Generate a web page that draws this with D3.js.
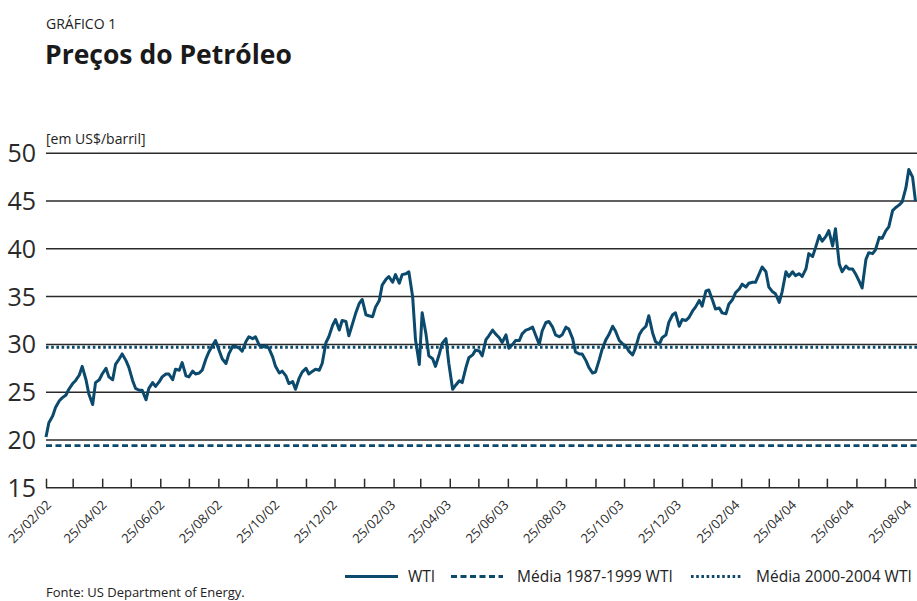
<!DOCTYPE html>
<html>
<head>
<meta charset="utf-8">
<script src="https://cdn.jsdelivr.net/npm/d3@7"></script>
<style>
  body { margin: 0; background: #fff; }
  svg { display: block; font-family: "Open Sans", sans-serif; }
</style>
</head>
<body>
<div id="chart"></div>
<script>
// first observation, then Monday / Thursday of every week
const startDate = "2002-02-25";
const wti = [
  20.3, 21.8, 22.5, 23.4, 24.1, 24.4, 24.7, 25.3, 25.9, 26.2,
  26.8, 27.7, 26.3, 24.8, 23.7, 26.0, 26.3, 26.9, 27.5, 26.6,
  26.3, 27.9, 28.5, 29.0, 28.3, 27.6, 26.2, 25.4, 25.2, 25.2,
  24.2, 25.4, 26.0, 25.6, 26.1, 26.6, 26.9, 26.9, 26.3, 27.4,
  27.3, 28.1, 26.7, 26.6, 27.2, 26.9, 27.0, 27.3, 28.5, 29.2,
  29.9, 30.4, 29.3, 28.5, 28.0, 29.0, 29.8, 29.8, 29.6, 29.3,
  30.3, 30.8, 30.6, 30.8, 29.9, 29.7, 29.9, 29.6, 28.7, 27.7,
  27.0, 27.2, 26.7, 25.9, 26.1, 25.3, 26.5, 27.1, 27.5, 26.9,
  27.2, 27.4, 27.3, 28.0, 30.2, 30.8, 32.0, 32.6, 31.5, 32.5,
  32.4, 30.9, 32.2, 33.2, 34.3, 34.7, 33.1, 33.0, 32.9, 33.9,
  34.6, 36.2, 36.8, 37.1, 36.5, 37.3, 36.4, 37.3, 37.4, 37.6,
  35.0, 30.5, 27.9, 33.3, 31.1, 28.8, 28.5, 27.7, 29.0, 30.1,
  30.6, 28.0, 25.3, 25.7, 26.2, 26.0, 27.6, 28.6, 28.9, 29.4,
  29.3, 28.8, 30.5, 30.9, 31.5, 31.1, 30.7, 30.2, 31.0, 29.6,
  30.0, 30.4, 30.4, 31.1, 31.5, 31.6, 31.8, 31.0, 30.0, 31.4,
  32.3, 32.4, 31.8, 31.0, 30.8, 31.0, 31.8, 31.6, 30.6, 29.2,
  29.0, 29.0, 28.3, 27.6, 27.0, 27.1, 28.4, 29.5, 30.5, 31.0,
  31.9, 31.4, 30.4, 30.1, 29.8, 29.3, 28.9, 29.6, 31.0, 31.5,
  31.9, 33.0, 31.2, 30.3, 30.0, 30.7, 31.0, 32.3, 33.1, 33.3,
  31.9, 32.6, 32.5, 32.8, 33.5, 33.9, 34.6, 34.0, 35.6, 35.7,
  34.6, 33.7, 33.8, 33.3, 33.2, 34.2, 34.7, 35.4, 35.8, 36.3,
  36.0, 36.4, 36.5, 36.5, 37.4, 38.1, 37.6, 36.0, 35.5, 35.3,
  34.4, 35.5, 37.6, 37.1, 37.6, 37.2, 37.4, 37.1, 37.9, 39.5,
  39.2, 40.1, 41.4, 40.8, 41.3, 41.9, 40.3, 42.1, 38.4, 37.6,
  38.2, 37.9, 37.9, 37.4, 36.6, 35.9, 38.9, 39.6, 39.5, 39.9,
  41.2, 41.1, 41.9, 42.3, 44.0, 44.3, 44.6, 44.9, 46.4, 48.3,
  47.5, 45.0
];
const avg8799 = 19.4;
const avg0004 = 29.7;
const yTicks = [15, 20, 25, 30, 35, 40, 45, 50];
const legendLabels = ["WTI", "Média 1987-1999 WTI", "Média 2000-2004 WTI"];

const width = 917, height = 601;
const margin = {top: 153.3, right: 0, bottom: 113.3, left: 46};
const blue = "#0b4a6c";

const parse = d3.timeParse("%Y-%m-%d");
const start = parse(startDate);
const data = wti.map(function (v, i) {
  const w = Math.floor(i / 2);
  return {date: d3.timeDay.offset(start, w * 7 + (i % 2) * 3), value: v};
});

const svg = d3.select("#chart").append("svg")
  .attr("width", width)
  .attr("height", height);

const x = d3.scaleTime()
  .domain([start, parse("2004-08-25")])
  .range([margin.left, 914.5]);
const y = d3.scaleLinear()
  .domain([15, 50])
  .range([height - margin.bottom, margin.top]);

// titles
svg.append("text").attr("x", 46).attr("y", 29)
  .style("font-size", "14px").style("fill", "#222")
  .text("GRÁFICO 1");
svg.append("text").attr("x", 45).attr("y", 64)
  .style("font-size", "26.5px").style("font-weight", "bold").style("fill", "#1a1a1a")
  .text("Preços do Petróleo");
svg.append("text").attr("x", 46).attr("y", 144)
  .style("font-size", "14px").style("fill", "#222")
  .text("[em US$/barril]");

// gridlines
svg.append("g").selectAll("line")
  .data(yTicks.filter(d => d > 15))
  .join("line")
  .attr("x1", margin.left).attr("x2", width)
  .attr("y1", d => y(d)).attr("y2", d => y(d))
  .attr("stroke", "#2a2a2a").attr("stroke-width", 1.5);

// y labels
svg.append("g").selectAll("text")
  .data(yTicks)
  .join("text")
  .attr("x", 36).attr("y", d => y(d) + 9)
  .attr("text-anchor", "end")
  .style("font-size", "25px").style("fill", "#2a2a2a")
  .text(d => d);

// x axis
const months = d3.timeMonth.range(parse("2002-02-01"), parse("2004-09-01"))
  .map(d => new Date(d.getFullYear(), d.getMonth(), 25));
const fmt = d3.timeFormat("%d/%m/%y");
const xAxis = d3.axisTop(x)
  .tickValues(months)
  .tickSize(9)
  .tickFormat("");
const gx = svg.append("g")
  .attr("transform", "translate(0," + y(15) + ")")
  .call(xAxis);
gx.select(".domain").remove();
gx.selectAll(".tick line").attr("stroke", "#2a2a2a").attr("stroke-width", 1.5);
gx.append("line")
  .attr("x1", margin.left).attr("x2", width)
  .attr("stroke", "#2a2a2a").attr("stroke-width", 1.5);

svg.append("g").selectAll("text")
  .data(months.filter((d, i) => i % 2 === 0))
  .join("text")
  .attr("text-anchor", "end")
  .attr("transform", (d, i) => "translate(" + (x(d) + 6 - i * 0.55) + "," + (y(15) + 18) + ") rotate(-45)")
  .style("font-size", "13px").style("fill", "#2a2a2a")
  .text(d => fmt(d));

// average lines
svg.append("line")
  .attr("x1", margin.left).attr("x2", width)
  .attr("y1", y(avg8799)).attr("y2", y(avg8799))
  .attr("stroke", blue).attr("stroke-width", 2.8)
  .attr("stroke-dasharray", "6,3.5");
svg.append("line")
  .attr("x1", margin.left).attr("x2", width)
  .attr("y1", y(avg0004)).attr("y2", y(avg0004))
  .attr("stroke", blue).attr("stroke-width", 2.8)
  .attr("stroke-dasharray", "2.6,2.6");

// WTI line
const line = d3.line()
  .x(d => x(d.date))
  .y(d => y(d.value));
svg.append("path")
  .datum(data)
  .attr("fill", "none")
  .attr("stroke", blue)
  .attr("stroke-width", 3)
  .attr("stroke-linejoin", "round")
  .attr("d", line);

// legend
const legend = [
  {x1: 345, x2: 398, tx: 408, dash: null},
  {x1: 451, x2: 503, tx: 517, dash: "6,3.5"},
  {x1: 691, x2: 742, tx: 756, dash: "2.6,2.6"}
];
const lg = svg.append("g");
legend.forEach(function (l, i) {
  lg.append("line")
    .attr("x1", l.x1).attr("x2", l.x2)
    .attr("y1", 576.5).attr("y2", 576.5)
    .attr("stroke", blue).attr("stroke-width", 2.8)
    .attr("stroke-dasharray", l.dash);
  lg.append("text")
    .attr("x", l.tx).attr("y", 582)
    .style("font-size", "15.5px").style("fill", "#222")
    .text(legendLabels[i]);
});

svg.append("text").attr("x", 46).attr("y", 597)
  .style("font-size", "13px").style("fill", "#222")
  .text("Fonte: US Department of Energy.");
</script>
</body>
</html>
